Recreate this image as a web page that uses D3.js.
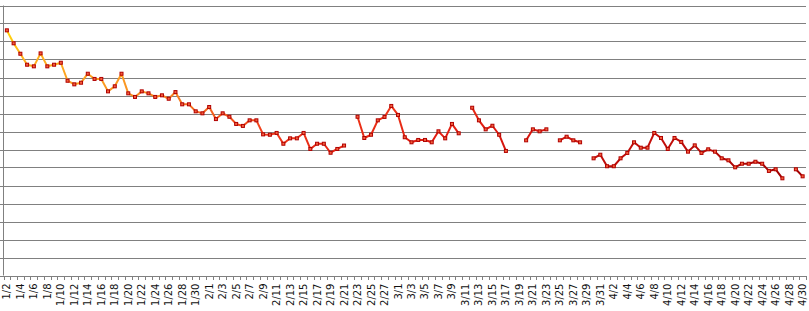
<!DOCTYPE html>
<html>
<head>
<meta charset="UTF-8">
<script src="https://d3js.org/d3.v7.min.js"></script>
<style>
  body { margin: 0; background: #fff; }
  svg { display: block; }
  .grid line { stroke: #808080; stroke-width: 1; shape-rendering: crispEdges; }
  .xaxis text { font-family: "DejaVu Sans", sans-serif; font-size: 10px; fill: #111; }
</style>
</head>
<body>
<svg width="809" height="311"></svg>
<script>
// daily values, 1/2 .. 4/30 (null = no reading)
const janValues = [13.62, 12.90, 12.32, 11.71, 11.62, 12.34, 11.62, 11.71, 11.82, 10.82,
                   10.62, 10.71, 11.21, 10.92, 10.92, 10.23, 10.51, 11.21, 10.12, 9.92,
                   10.23, 10.12, 9.92, 10.01, 9.82, 10.19, 9.51, 9.51, 9.12, 9.01];
const febValues = [9.36, 8.69, 9.01, 8.82, 8.42, 8.31, 8.62, 8.62, 7.84, 7.82,
                   7.92, 7.32, 7.62, 7.62, 7.92, 7.03, 7.32, 7.32, 6.82, 7.03,
                   7.22, null, 8.82, 7.64, 7.82, 8.62, 8.81, 9.42];
const marValues = [8.92, 7.68, 7.40, 7.53, 7.53, 7.40, 8.01, 7.62, 8.42, 7.90,
                   null, 9.32, 8.62, 8.12, 8.32, 7.82, 6.92, null, null, 7.51,
                   8.12, 8.01, 8.12, null, 7.51, 7.71, 7.51, 7.40, null, 6.51, 6.71];
const aprValues = [6.07, 6.07, 6.51, 6.81, 7.40, 7.10, 7.10, 7.92, 7.64, 7.03,
                   7.64, 7.42, 6.88, 7.23, 6.81, 7.01, 6.88, 6.51, 6.40, 6.01,
                   6.21, 6.21, 6.32, 6.21, 5.81, 5.90, 5.40, null, 5.90, 5.51];

const firstDay = new Date(2011, 0, 2);
const lastDay = new Date(2011, 4, 1); // exclusive
const yMax = 15;

const fmt = d3.timeFormat("%-m/%-d");
const categories = d3.timeDay.range(firstDay, lastDay).map(fmt);
const values = [].concat(janValues, febValues, marValues, aprValues);
const data = categories.map((c, i) => ({ cat: c, v: values[i] }));
const tickLabels = categories.filter((c, i) => i % 2 === 0);

const svg = d3.select("svg");
const plotLeft = 3.5, plotRight = 806, plotTop = 5.5, plotBottom = 275.5;

const x = d3.scaleBand().domain(categories).range([plotLeft, plotRight]).padding(0);
const y = d3.scaleLinear().domain([0, yMax]).range([plotBottom, plotTop]);
const cx = d => x(d) + x.bandwidth() / 2;

// gradient for the line (yellow -> orange -> red -> dark red)
const grad = svg.append("defs").append("linearGradient")
    .attr("id", "lineGrad")
    .attr("gradientUnits", "userSpaceOnUse")
    .attr("x1", 0).attr("y1", 0).attr("x2", 88).attr("y2", 353);
[[0.06, "#ffe000"], [0.17, "#ffb21e"], [0.33, "#f99222"], [0.53, "#f03a1a"],
 [0.67, "#e01a10"], [0.87, "#b80a08"], [1, "#a00000"]].forEach(s => {
  grad.append("stop").attr("offset", s[0]).attr("stop-color", s[1]);
});

// gridlines
svg.append("g").attr("class", "grid")
  .selectAll("line")
  .data(y.ticks(yMax))
  .join("line")
    .attr("x1", 0).attr("x2", plotRight)
    .attr("y1", d => Math.round(y(d)) + 0.5)
    .attr("y2", d => Math.round(y(d)) + 0.5);

// left axis line
svg.append("line")
  .attr("x1", plotLeft).attr("x2", plotLeft)
  .attr("y1", plotTop).attr("y2", plotBottom)
  .attr("stroke", "#808080");

// category boundary ticks
svg.append("g").attr("class", "grid")
  .selectAll("line")
  .data(categories.concat([null]))
  .join("line")
    .attr("x1", d => Math.round(d === null ? plotRight : x(d)) + 0.5)
    .attr("x2", d => Math.round(d === null ? plotRight : x(d)) + 0.5)
    .attr("y1", plotBottom).attr("y2", plotBottom + 4);

// x axis labels
const xAxis = svg.append("g")
  .attr("class", "xaxis")
  .attr("transform", "translate(0," + plotBottom + ")")
  .call(d3.axisBottom(x).tickValues(tickLabels).tickSize(0).tickPadding(0));
xAxis.select(".domain").remove();
xAxis.selectAll(".tick text")
  .attr("transform", "rotate(-90)")
  .attr("text-anchor", "end")
  .attr("x", -8)
  .attr("y", 0)
  .attr("dy", "0.35em");

// line
const line = d3.line()
  .defined(d => d.v !== null)
  .x(d => cx(d.cat))
  .y(d => y(d.v));

svg.append("path")
  .datum(data)
  .attr("fill", "none")
  .attr("stroke", "url(#lineGrad)")
  .attr("stroke-width", 2)
  .attr("stroke-linejoin", "round")
  .attr("d", line);

// markers
svg.append("g")
  .selectAll("rect")
  .data(data.filter(d => d.v !== null))
  .join("rect")
    .attr("x", d => cx(d.cat) - 1.5)
    .attr("y", d => y(d.v) - 1.5)
    .attr("width", 3)
    .attr("height", 3)
    .attr("fill", "#f4603c")
    .attr("stroke", "#b00000")
    .attr("stroke-width", 1);
</script>
</body>
</html>
